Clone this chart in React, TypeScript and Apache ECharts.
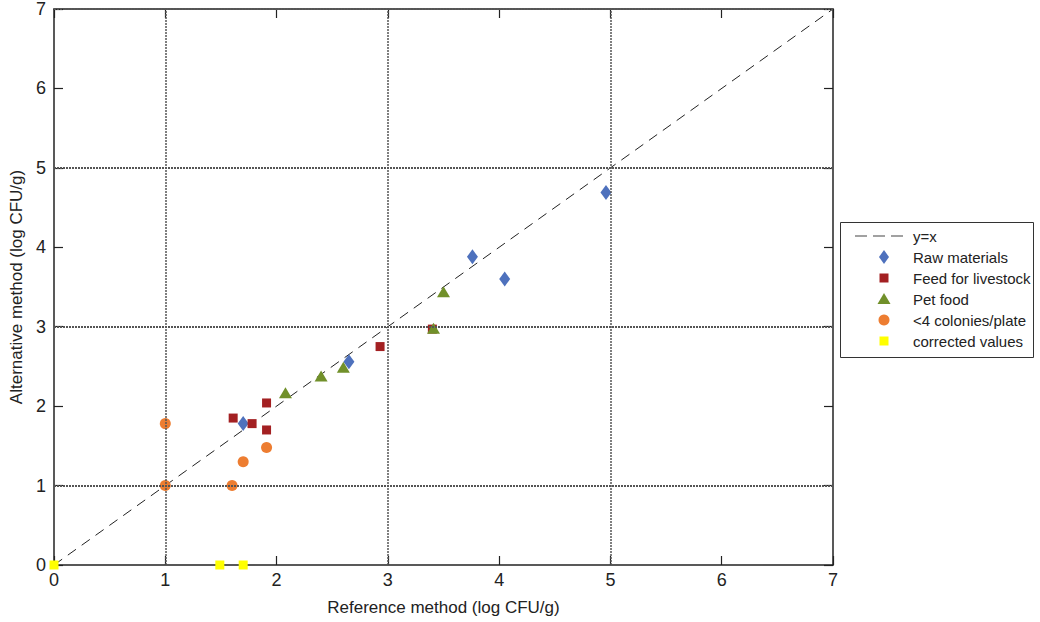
import React, { useEffect, useRef } from "react";
import * as echarts from "echarts";

// Paired log counts: [reference method, alternative method] in log CFU/g
const rawMaterials: number[][] = [
  [1.7, 1.78],
  [2.65, 2.56],
  [3.76, 3.88],
  [4.05, 3.6],
  [4.96, 4.69],
];
const feedForLivestock: number[][] = [
  [1.61, 1.85],
  [1.78, 1.78],
  [1.91, 2.04],
  [1.91, 1.7],
  [2.93, 2.75],
  [3.4, 2.97],
];
const petFood: number[][] = [
  [2.08, 2.17],
  [2.4, 2.38],
  [2.6, 2.49],
  [3.41, 2.98],
  [3.5, 3.44],
];
const fewColonies: number[][] = [
  [1.0, 1.78],
  [1.0, 1.0],
  [1.6, 1.0],
  [1.7, 1.3],
  [1.91, 1.48],
];
const correctedValues: number[][] = [
  [0, 0],
  [1.49, 0],
  [1.7, 0],
];
const identityLine: number[][] = [
  [0, 0],
  [7, 7],
];
const gridXValues = [1, 3, 5];
const gridYValues = [1, 3, 5, 7];
const axisMin = 0;
const axisMax = 7;
const legendNames = [
  "y=x",
  "Raw materials",
  "Feed for livestock",
  "Pet food",
  "<4 colonies/plate",
  "corrected values",
];

const FONT = "'Liberation Sans', Arial, sans-serif";
const INK = "#222";
const COLORS = {
  raw: "#4e71bd",
  feed: "#a32022",
  pet: "#71902a",
  few: "#ed7d31",
  corrected: "#ffff00",
};

// Legend drawn as a framed block of graphic elements
function buildLegend() {
  const left = 840;
  const top = 222;
  const rowH = 21;
  const firstRow = top + 14;
  const iconX = 884;
  const textX = 913;
  const children: any[] = [
    {
      type: "rect",
      shape: { x: left + 0.5, y: top + 0.5, width: 193, height: 135 },
      style: { fill: "#fff", stroke: "#333", lineWidth: 1 },
    },
  ];
  const rows = legendNames.map((_, i) => firstRow + i * rowH);
  // y=x dashed line
  children.push({
    type: "line",
    shape: { x1: 855, y1: rows[0], x2: 908, y2: rows[0] },
    style: { stroke: "#444", lineWidth: 1.2, lineDash: [12, 6] },
  });
  // diamond
  children.push({
    type: "polygon",
    shape: {
      points: [
        [iconX, rows[1] - 7],
        [iconX + 5, rows[1]],
        [iconX, rows[1] + 7],
        [iconX - 5, rows[1]],
      ],
    },
    style: { fill: COLORS.raw },
  });
  // square
  children.push({
    type: "rect",
    shape: { x: iconX - 4.5, y: rows[2] - 4.5, width: 9, height: 9 },
    style: { fill: COLORS.feed },
  });
  // triangle
  children.push({
    type: "polygon",
    shape: {
      points: [
        [iconX, rows[3] - 6],
        [iconX + 6.5, rows[3] + 5],
        [iconX - 6.5, rows[3] + 5],
      ],
    },
    style: { fill: COLORS.pet },
  });
  // circle
  children.push({
    type: "circle",
    shape: { cx: iconX, cy: rows[4], r: 5.5 },
    style: { fill: COLORS.few },
  });
  // yellow square
  children.push({
    type: "rect",
    shape: { x: iconX - 4.5, y: rows[5] - 4.5, width: 9, height: 9 },
    style: { fill: COLORS.corrected },
  });
  legendNames.forEach((name, i) => {
    children.push({
      type: "text",
      x: textX,
      y: rows[i],
      style: {
        text: name,
        fill: INK,
        font: `15px ${FONT}`,
        verticalAlign: "middle",
      },
    });
  });
  return { type: "group", children, z: 100 };
}

export default function App() {
  const ref = useRef<HTMLDivElement>(null);

  useEffect(() => {
    if (!ref.current) return;
    const chart = echarts.init(ref.current, undefined, { renderer: "svg" });

    const makeAxis = () => ({
      type: "value" as const,
      min: axisMin,
      max: axisMax,
      interval: 1,
      splitLine: { show: false },
      axisLine: { show: true, onZero: false, lineStyle: { color: INK, width: 1.5 } },
      axisTick: { show: true, inside: true, length: 9, lineStyle: { color: INK, width: 1.2 } },
    });

    const gridMarks = [
      ...gridXValues.map((v) => ({
        xAxis: v,
        lineStyle: { color: "#555", width: 1.5, type: [2, 1] },
      })),
      ...gridYValues.map((v) => ({
        yAxis: v,
        lineStyle: { color: "#555", width: 2, type: [2, 1] },
      })),
    ];

    const markerStyle = (color: string) => ({ color, opacity: 1 });

    chart.setOption({
      animation: false,
      backgroundColor: "#fff",
      textStyle: { fontFamily: FONT },
      grid: { left: 54, top: 8, width: 779, height: 557, containLabel: false },
      graphic: [buildLegend()],
      xAxis: [
        {
          ...makeAxis(),
          position: "bottom",
          name: "Reference method (log CFU/g)",
          nameLocation: "middle",
          nameGap: 34,
          nameTextStyle: { fontFamily: FONT, fontSize: 17, color: INK },
          axisLabel: { fontFamily: FONT, fontSize: 18, color: INK, margin: 6 },
        },
        {
          ...makeAxis(),
          position: "top",
          axisLabel: { show: false },
        },
      ],
      yAxis: [
        {
          ...makeAxis(),
          position: "left",
          name: "Alternative method (log CFU/g)",
          nameLocation: "middle",
          nameGap: 26,
          nameTextStyle: { fontFamily: FONT, fontSize: 17, color: INK },
          axisLabel: { fontFamily: FONT, fontSize: 18, color: INK, margin: 8 },
        },
        {
          ...makeAxis(),
          position: "right",
          axisLabel: { show: false },
        },
      ],
      series: [
        {
          name: "y=x",
          type: "line",
          data: identityLine,
          symbol: "none",
          lineStyle: { color: "#222", width: 1, type: [10, 7] },
          markLine: {
            silent: true,
            symbol: "none",
            label: { show: false },
            data: gridMarks,
          },
          z: 3,
        },
        {
          name: "Raw materials",
          type: "scatter",
          data: rawMaterials,
          symbol: "diamond",
          symbolSize: [11, 15],
          itemStyle: markerStyle(COLORS.raw),
          z: 4,
        },
        {
          name: "Feed for livestock",
          type: "scatter",
          data: feedForLivestock,
          symbol: "rect",
          symbolSize: 9,
          itemStyle: markerStyle(COLORS.feed),
          z: 4,
        },
        {
          name: "Pet food",
          type: "scatter",
          data: petFood,
          symbol: "triangle",
          symbolSize: [13, 11],
          itemStyle: markerStyle(COLORS.pet),
          z: 4,
        },
        {
          name: "<4 colonies/plate",
          type: "scatter",
          data: fewColonies,
          symbol: "circle",
          symbolSize: 11,
          itemStyle: markerStyle(COLORS.few),
          z: 4,
        },
        {
          name: "corrected values",
          type: "scatter",
          data: correctedValues,
          symbol: "rect",
          symbolSize: 9,
          clip: false,
          itemStyle: markerStyle(COLORS.corrected),
          z: 5,
        },
      ],
    });

    return () => chart.dispose();
  }, []);

  return (
    <div
      ref={ref}
      style={{ position: "fixed", left: 0, top: 0, width: 1040, height: 622, background: "#fff" }}
    />
  );
}
